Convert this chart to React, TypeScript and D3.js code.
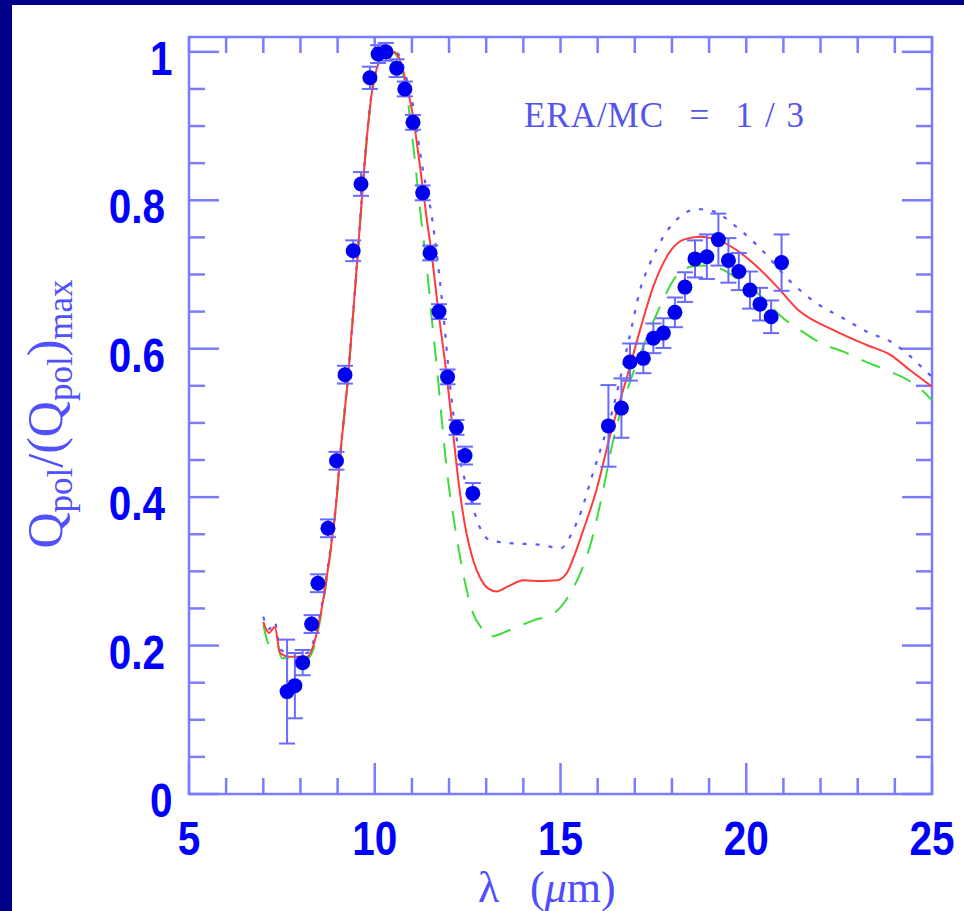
import React, { useEffect } from "react";
import * as d3 from "d3";

// Observed normalised polarisation efficiency
const obsLambda = [7.64, 7.85, 8.06, 8.30, 8.47, 8.74, 8.97, 9.20, 9.42, 9.63, 9.87, 10.09, 10.30, 10.59, 10.81, 11.03, 11.29, 11.49, 11.73, 11.96, 12.20, 12.43, 12.64, 16.29, 16.64, 16.87, 17.23, 17.50, 17.77, 18.08, 18.35, 18.62, 18.94, 19.25, 19.52, 19.80, 20.10, 20.37, 20.67, 20.95];
const obsQ = [0.138, 0.146, 0.177, 0.229, 0.284, 0.358, 0.449, 0.565, 0.732, 0.822, 0.965, 0.997, 1.0, 0.978, 0.950, 0.905, 0.810, 0.729, 0.650, 0.562, 0.494, 0.456, 0.405, 0.496, 0.520, 0.582, 0.587, 0.614, 0.621, 0.649, 0.683, 0.721, 0.724, 0.747, 0.719, 0.704, 0.679, 0.660, 0.643, 0.716];
const obsErr = [0.07, 0.044, 0.017, 0.012, 0.012, 0.012, 0.012, 0.012, 0.014, 0.016, 0.015, 0.012, 0.012, 0.012, 0.01, 0.01, 0.01, 0.01, 0.01, 0.01, 0.01, 0.012, 0.014, 0.055, 0.04, 0.025, 0.02, 0.02, 0.02, 0.02, 0.02, 0.025, 0.03, 0.035, 0.03, 0.025, 0.025, 0.022, 0.022, 0.038];

// Model curves
const midLambda = [7.00, 7.15, 7.31, 7.45, 7.70, 8.17, 8.44, 8.61, 8.80, 8.97, 9.06, 9.29, 9.50, 9.65, 9.78, 9.92, 10.10, 10.32, 10.50, 10.68, 10.86, 11.04, 11.22, 11.40, 11.53, 11.71, 11.94, 12.11, 12.22, 12.47, 12.65, 12.83, 13.05, 13.28, 13.60, 14.00, 14.50, 14.90, 15.16, 15.40, 15.61, 15.97, 16.33, 16.60, 16.78, 17.14, 17.50, 17.86, 18.31, 18.76, 19.20, 19.74, 20.28, 20.82, 21.40, 22.35, 23.24, 23.87, 24.41, 25.00];
const midQ = [0.232, 0.217, 0.225, 0.190, 0.185, 0.185, 0.217, 0.261, 0.325, 0.396, 0.450, 0.567, 0.700, 0.800, 0.880, 0.944, 0.984, 0.998, 1.000, 0.989, 0.955, 0.910, 0.845, 0.775, 0.728, 0.652, 0.562, 0.486, 0.435, 0.351, 0.315, 0.292, 0.277, 0.273, 0.280, 0.288, 0.287, 0.288, 0.297, 0.325, 0.355, 0.410, 0.482, 0.530, 0.560, 0.625, 0.684, 0.724, 0.747, 0.751, 0.747, 0.733, 0.711, 0.684, 0.652, 0.625, 0.605, 0.592, 0.571, 0.549];

const highLambda = [7.00, 7.15, 7.31, 7.45, 7.70, 8.17, 8.44, 8.61, 8.80, 8.97, 9.06, 9.29, 9.50, 9.65, 9.78, 9.92, 10.10, 10.32, 10.50, 10.68, 10.86, 11.04, 11.17, 11.31, 11.53, 11.80, 12.07, 12.30, 12.57, 12.78, 13.10, 13.64, 14.45, 15.00, 15.26, 15.57, 15.84, 16.10, 16.38, 16.64, 16.92, 17.14, 17.41, 17.77, 18.22, 18.67, 19.12, 19.74, 20.40, 21.20, 21.90, 22.61, 23.33, 23.87, 24.41, 24.81, 25.00];
const highQ = [0.239, 0.222, 0.232, 0.195, 0.190, 0.190, 0.222, 0.265, 0.328, 0.398, 0.452, 0.569, 0.702, 0.802, 0.882, 0.946, 0.986, 1.000, 1.002, 0.993, 0.963, 0.925, 0.881, 0.837, 0.780, 0.670, 0.531, 0.450, 0.400, 0.365, 0.342, 0.338, 0.336, 0.331, 0.347, 0.383, 0.427, 0.468, 0.513, 0.567, 0.630, 0.679, 0.715, 0.751, 0.778, 0.788, 0.785, 0.764, 0.734, 0.690, 0.661, 0.641, 0.621, 0.610, 0.590, 0.571, 0.562];

const lowLambda = [7.00, 7.18, 7.35, 7.50, 8.20, 8.44, 8.61, 8.80, 8.97, 9.06, 9.29, 9.50, 9.65, 9.78, 9.92, 10.10, 10.32, 10.50, 10.68, 10.86, 11.00, 11.13, 11.26, 11.40, 11.53, 11.67, 11.80, 11.93, 12.16, 12.38, 12.65, 12.90, 13.10, 13.64, 14.27, 14.81, 15.26, 15.57, 15.84, 16.15, 16.42, 16.80, 17.23, 17.68, 18.17, 18.58, 19.00, 19.39, 19.74, 20.46, 20.95, 21.45, 22.03, 22.61, 23.24, 23.78, 24.41, 24.95, 25.00];
const lowQ = [0.228, 0.200, 0.205, 0.183, 0.183, 0.212, 0.258, 0.322, 0.394, 0.448, 0.565, 0.698, 0.798, 0.878, 0.942, 0.982, 0.996, 0.998, 0.985, 0.945, 0.890, 0.830, 0.770, 0.710, 0.643, 0.576, 0.506, 0.441, 0.360, 0.297, 0.243, 0.222, 0.212, 0.221, 0.234, 0.243, 0.270, 0.302, 0.342, 0.410, 0.477, 0.545, 0.603, 0.657, 0.701, 0.711, 0.712, 0.706, 0.695, 0.668, 0.643, 0.625, 0.607, 0.596, 0.582, 0.571, 0.556, 0.533, 0.530];

const xTickLabels = [5, 10, 15, 20, 25];
const yTickLabels = [0, 0.2, 0.4, 0.6, 0.8, 1];
// annotation pieces laid out on a fixed-pitch grid: [text, first cell, cell count]
const annotationParts: [string, number, number][] = [
  ["ERA/MC", 0, 6],
  ["=", 7, 1],
  ["1/3", 9, 3],
];

const W = 964;
const H = 911;
const axisColor = "#7b7bff";
const labelColor = "#0000ff";

export default function App() {
  useEffect(() => {
    document.body.style.margin = "0";
    document.body.style.overflow = "hidden";
    document.body.style.background = "#ffffff";
  }, []);

  const x = d3.scaleLinear().domain([5, 25]).range([189, 932]);
  const y = d3.scaleLinear().domain([0, 1.02]).range([794, 37]);

  const line = d3
    .line<[number, number]>()
    .x((d) => x(d[0]))
    .y((d) => y(d[1]))
    .curve(d3.curveMonotoneX);

  const zip = (a: number[], b: number[]) => a.map((v, i) => [v, b[i]] as [number, number]);

  const xMinor = d3.range(5, 25.001, 1);
  const yMinor = d3.range(0, 1.0001, 0.05);
  const isMajorX = (v: number) => Math.abs(v / 5 - Math.round(v / 5)) < 1e-6;
  const isMajorY = (v: number) => Math.abs(v / 0.2 - Math.round(v / 0.2)) < 1e-6;

  const [x0, x1] = x.range();
  const [y0, y1] = y.range();

  const cell = 23.5;
  const annLeft = 523;

  return (
    <div style={{ position: "fixed", left: 0, top: 0, width: W, height: H, overflow: "hidden", background: "#ffffff" }}>
      <svg width={W} height={H} style={{ display: "block" }}>
        <rect x={0} y={0} width={W} height={H} fill="#ffffff" />
        {/* dark frame */}
        <rect x={0} y={0} width={W} height={5} fill="#00008b" />
        <rect x={0} y={0} width={12} height={H} fill="#00008b" />

        {/* plot frame */}
        <rect x={x0} y={y1} width={x1 - x0} height={y0 - y1} fill="none" stroke={axisColor} strokeWidth={2.5} />

        {/* x ticks: bottom and top */}
        {xMinor.map((v) => {
          const len = isMajorX(v) ? 31 : 16;
          return (
            <g key={"xt" + v} stroke={axisColor} strokeWidth={2.5}>
              <line x1={x(v)} x2={x(v)} y1={y0} y2={y0 - len} />
              <line x1={x(v)} x2={x(v)} y1={y1} y2={y1 + 16} />
            </g>
          );
        })}
        {/* y ticks: left and right */}
        {yMinor.map((v) => {
          const len = isMajorY(v) ? 30 : 16;
          return (
            <g key={"yt" + v} stroke={axisColor} strokeWidth={2.5}>
              <line x1={x0} x2={x0 + len} y1={y(v)} y2={y(v)} />
              <line x1={x1} x2={x1 - len} y1={y(v)} y2={y(v)} />
            </g>
          );
        })}

        {/* tick labels */}
        {xTickLabels.map((v) => (
          <text
            key={"xl" + v}
            transform={`translate(${x(v)},855) scale(1,1.17)`}
            textAnchor="middle"
            fontFamily="'Liberation Sans', Arial, sans-serif"
            fontWeight="bold"
            fontSize={40.5}
            fill={labelColor}
          >
            {v}
          </text>
        ))}
        {yTickLabels.map((v) => {
          const s = Number.isInteger(v) ? String(v) : v.toFixed(1);
          const single = s.length === 1;
          return (
            <text
              key={"yl" + v}
              transform={`translate(${single ? 150 : 165},${y(v) + 23}) scale(1,1.17)`}
              textAnchor={single ? "start" : "end"}
              fontFamily="'Liberation Sans', Arial, sans-serif"
              fontWeight="bold"
              fontSize={40.5}
              fill={labelColor}
            >
              {s}
            </text>
          );
        })}

        {/* axis titles */}
        <text
          y={902}
          fontFamily="'Liberation Serif', 'Times New Roman', serif"
          fontSize={44}
          fill="#4d4dff"
        >
          <tspan x={478}>λ</tspan>
          <tspan x={530}>(</tspan>
          <tspan fontStyle="italic">μ</tspan>
          <tspan>m)</tspan>
        </text>
        <text
          transform="translate(62,414) rotate(-90)"
          textAnchor="middle"
          fontFamily="'Liberation Serif', 'Times New Roman', serif"
          fontSize={50}
          fill="#5050ff"
        >
          Q
          <tspan fontSize={35} dy={10}>pol</tspan>
          <tspan dy={-10}>/(Q</tspan>
          <tspan fontSize={35} dy={10}>pol</tspan>
          <tspan dy={-10}>)</tspan>
          <tspan fontSize={35} dy={10}>max</tspan>
        </text>

        {annotationParts.map(([t, start, n]) =>
          n === 1 ? (
            <text
              key={t}
              x={annLeft + (start + 0.5) * cell}
              y={127}
              textAnchor="middle"
              fontFamily="'Liberation Serif', 'Times New Roman', serif"
              fontSize={35}
              fill="#5555ee"
            >
              {t}
            </text>
          ) : (
            <text
              key={t}
              x={annLeft + start * cell + 1}
              y={127}
              fontFamily="'Liberation Serif', 'Times New Roman', serif"
              fontSize={35}
              fill="#5555ee"
              textLength={n * cell - 2}
              lengthAdjust="spacing"
            >
              {t}
            </text>
          )
        )}

        {/* model curves */}
        <path d={line(zip(lowLambda, lowQ)) ?? ""} fill="none" stroke="#3ddc3d" strokeWidth={2} strokeDasharray="20,14" />
        <path d={line(zip(highLambda, highQ)) ?? ""} fill="none" stroke="#5a5aff" strokeWidth={2.2} strokeDasharray="4,9" />
        <path d={line(zip(midLambda, midQ)) ?? ""} fill="none" stroke="#ff3b3b" strokeWidth={2} />

        {/* observations with error bars */}
        {obsLambda.map((l, i) => {
          const cx = x(l);
          const top = y(obsQ[i] + obsErr[i]);
          const bot = y(obsQ[i] - obsErr[i]);
          return (
            <g key={"e" + i} stroke="#6a6aff" strokeWidth={2}>
              <line x1={cx} x2={cx} y1={top} y2={bot} />
              <line x1={cx - 8} x2={cx + 8} y1={top} y2={top} />
              <line x1={cx - 8} x2={cx + 8} y1={bot} y2={bot} />
            </g>
          );
        })}
        {obsLambda.map((l, i) => (
          <circle key={"p" + i} cx={x(l)} cy={y(obsQ[i])} r={7.5} fill="#0000f0" />
        ))}
      </svg>
    </div>
  );
}
